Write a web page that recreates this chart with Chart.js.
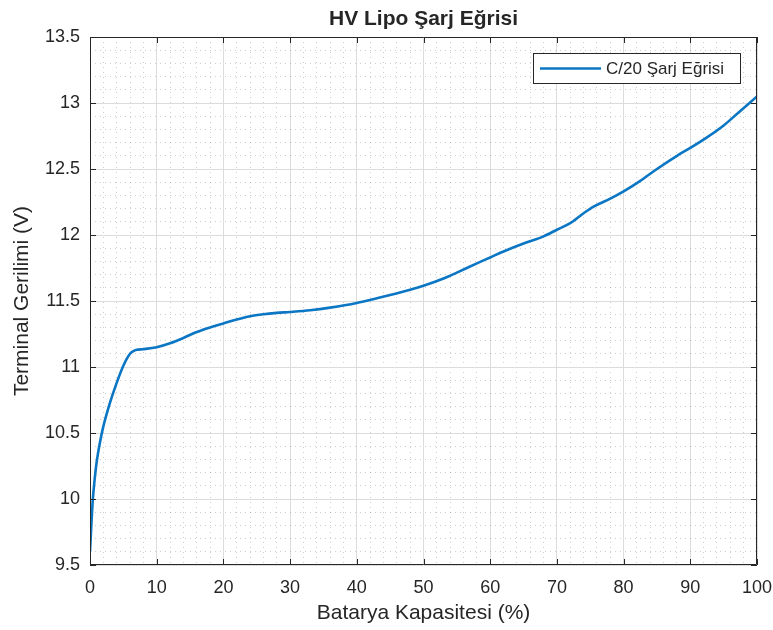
<!DOCTYPE html>
<html>
<head>
<meta charset="utf-8">
<title>HV Lipo Şarj Eğrisi</title>
<script src="https://cdn.jsdelivr.net/npm/chart.js@4.4.1/dist/chart.umd.min.js"></script>
<style>
  html, body { margin: 0; padding: 0; background: #fff; }
  #wrap { width: 773px; height: 630px; }
</style>
</head>
<body>
<div id="wrap"><canvas id="chart" width="773" height="630"></canvas></div>
<script>
// capacity (%) and terminal voltage (V) along the C/20 charge
const capacity = [0, 0.2, 0.4, 0.7, 1, 1.5, 2, 3, 4, 5, 6, 6.5, 7, 8, 10, 12, 14, 16, 18, 20,
  22, 24, 26, 28, 30, 33, 36, 40, 43, 45, 48, 50, 53, 55, 58, 60, 62, 65, 68, 70,
  72, 74, 75.5, 78, 80, 82.5, 85, 88, 90, 92.5, 95, 97.5, 100];
const voltage = [9.6, 9.8, 9.98, 10.15, 10.28, 10.43, 10.55, 10.73, 10.88, 11.01, 11.1, 11.12, 11.13, 11.135, 11.15, 11.18, 11.22, 11.265, 11.3, 11.33,
  11.36, 11.385, 11.4, 11.41, 11.417, 11.43, 11.45, 11.485, 11.52, 11.545, 11.585, 11.615, 11.67, 11.715, 11.785, 11.83, 11.875, 11.935, 11.99, 12.04,
  12.09, 12.165, 12.215, 12.275, 12.33, 12.41, 12.5, 12.6, 12.66, 12.74, 12.83, 12.94, 13.05];

const xTicks = [0, 10, 20, 30, 40, 50, 60, 70, 80, 90, 100];
const yTicks = [9.5, 10, 10.5, 11, 11.5, 12, 12.5, 13, 13.5];
const xMinorStep = 2;
const yMinorStep = 0.1;

const seriesName = 'C/20 Şarj Eğrisi';
const titleText = 'HV Lipo Şarj Eğrisi';
const xTitle = 'Batarya Kapasitesi (%)';
const yTitle = 'Terminal Gerilimi (V)';

const FONT = '"Liberation Sans", Arial, Helvetica, sans-serif';
const TEXT = '#262626';
const LINE = '#0b76c4';

function gridValues(first, last, step) {
  const out = [];
  const n = Math.round((last - first) / step);
  for (let i = 0; i <= n; i++) out.push(Math.round((first + i * step) * 1000) / 1000);
  return out;
}

function isMajor(list, v) {
  return list.some(t => Math.abs(t - v) < 1e-6);
}

function fmt(v) {
  return Number.isInteger(v) ? String(v) : v.toFixed(1);
}

const xAll = gridValues(xTicks[0], xTicks[xTicks.length - 1], xMinorStep);
const yAll = gridValues(yTicks[0], yTicks[yTicks.length - 1], yMinorStep);

const points = capacity.map((c, i) => ({ x: c, y: voltage[i] }));

// box, inward ticks, titles and legend drawn on top of the scales
const decor = {
  id: 'decor',
  afterDatasetsDraw(chart) {
    const { ctx, chartArea: a, scales } = chart;
    ctx.save();
    ctx.strokeStyle = TEXT;
    ctx.lineWidth = 1;
    ctx.beginPath();
    ctx.rect(a.left + 0.5, a.top + 0.5, a.right - a.left - 1, a.bottom - a.top - 1);
    ctx.stroke();

    const tl = 6;
    ctx.beginPath();
    xTicks.forEach(v => {
      const px = Math.round(scales.x.getPixelForValue(v)) + 0.5;
      ctx.moveTo(px, a.bottom); ctx.lineTo(px, a.bottom - tl);
      ctx.moveTo(px, a.top); ctx.lineTo(px, a.top + tl);
    });
    yTicks.forEach(v => {
      const py = Math.round(scales.y.getPixelForValue(v)) + 0.5;
      ctx.moveTo(a.left, py); ctx.lineTo(a.left + tl, py);
      ctx.moveTo(a.right, py); ctx.lineTo(a.right - tl, py);
    });
    ctx.stroke();

    // legend
    const lx = 533, ly = 53, lw = 207, lh = 30;
    ctx.fillStyle = '#fff';
    ctx.fillRect(lx, ly, lw, lh);
    ctx.strokeStyle = TEXT;
    ctx.strokeRect(lx + 0.5, ly + 0.5, lw, lh);
    ctx.strokeStyle = LINE;
    ctx.lineWidth = 2.6;
    ctx.beginPath();
    ctx.moveTo(lx + 7, ly + lh / 2 + 0.5);
    ctx.lineTo(lx + 68, ly + lh / 2 + 0.5);
    ctx.stroke();
    ctx.fillStyle = TEXT;
    ctx.font = '17px ' + FONT;
    ctx.textAlign = 'left';
    ctx.textBaseline = 'middle';
    ctx.fillText(chart.data.datasets[0].label, lx + 73, ly + lh / 2 + 1);

    // titles
    const cx = (a.left + a.right) / 2;
    ctx.font = 'bold 21px ' + FONT;
    ctx.textAlign = 'center';
    ctx.fillText(titleText, cx, 19);
    ctx.font = '21px ' + FONT;
    ctx.fillText(xTitle, cx, 613);
    ctx.translate(22, (a.top + a.bottom) / 2);
    ctx.rotate(-Math.PI / 2);
    ctx.fillText(yTitle, 0, 0);
    ctx.restore();
  }
};

const gridColor = ctx => (ctx.tick && !ctx.tick.minor) ? '#dcdcdc' : 'rgba(60,60,60,0.25)';

new Chart(document.getElementById('chart'), {
  type: 'line',
  data: {
    datasets: [{
      label: seriesName,
      data: points,
      borderColor: LINE,
      borderWidth: 2.6,
      pointRadius: 0,
      cubicInterpolationMode: 'monotone',
      fill: false
    }]
  },
  options: {
    responsive: false,
    animation: false,
    layout: { padding: { top: 37, right: 16, left: 0, bottom: 0 } },
    plugins: { legend: { display: false }, title: { display: false }, tooltip: { enabled: false } },
    scales: {
      x: {
        type: 'linear',
        min: 0,
        max: 100,
        afterBuildTicks: s => { s.ticks = xAll.map(v => ({ value: v, minor: !isMajor(xTicks, v) })); },
        afterFit: s => { s.height = 65; s.paddingLeft = 0; s.paddingRight = 0; },
        ticks: {
          autoSkip: false,
          maxRotation: 0,
          padding: 12,
          color: TEXT,
          font: { family: FONT, size: 18 },
          callback: v => isMajor(xTicks, v) ? fmt(v) : ''
        },
        grid: { color: gridColor, lineWidth: 1, drawTicks: false },
        border: { display: false, dash: ctx => (ctx.tick && ctx.tick.minor) ? [1, 4] : [] }
      },
      y: {
        type: 'linear',
        min: 9.5,
        max: 13.5,
        afterBuildTicks: s => { s.ticks = yAll.map(v => ({ value: v, minor: !isMajor(yTicks, v) })); },
        afterFit: s => { s.width = 90; s.paddingTop = 0; s.paddingBottom = 0; },
        ticks: {
          autoSkip: false,
          padding: 10,
          color: TEXT,
          font: { family: FONT, size: 18 },
          callback: v => isMajor(yTicks, v) ? fmt(v) : ''
        },
        grid: { color: gridColor, lineWidth: 1, drawTicks: false },
        border: { display: false, dash: ctx => (ctx.tick && ctx.tick.minor) ? [1, 4] : [] }
      }
    }
  },
  plugins: [decor]
});
</script>
</body>
</html>
